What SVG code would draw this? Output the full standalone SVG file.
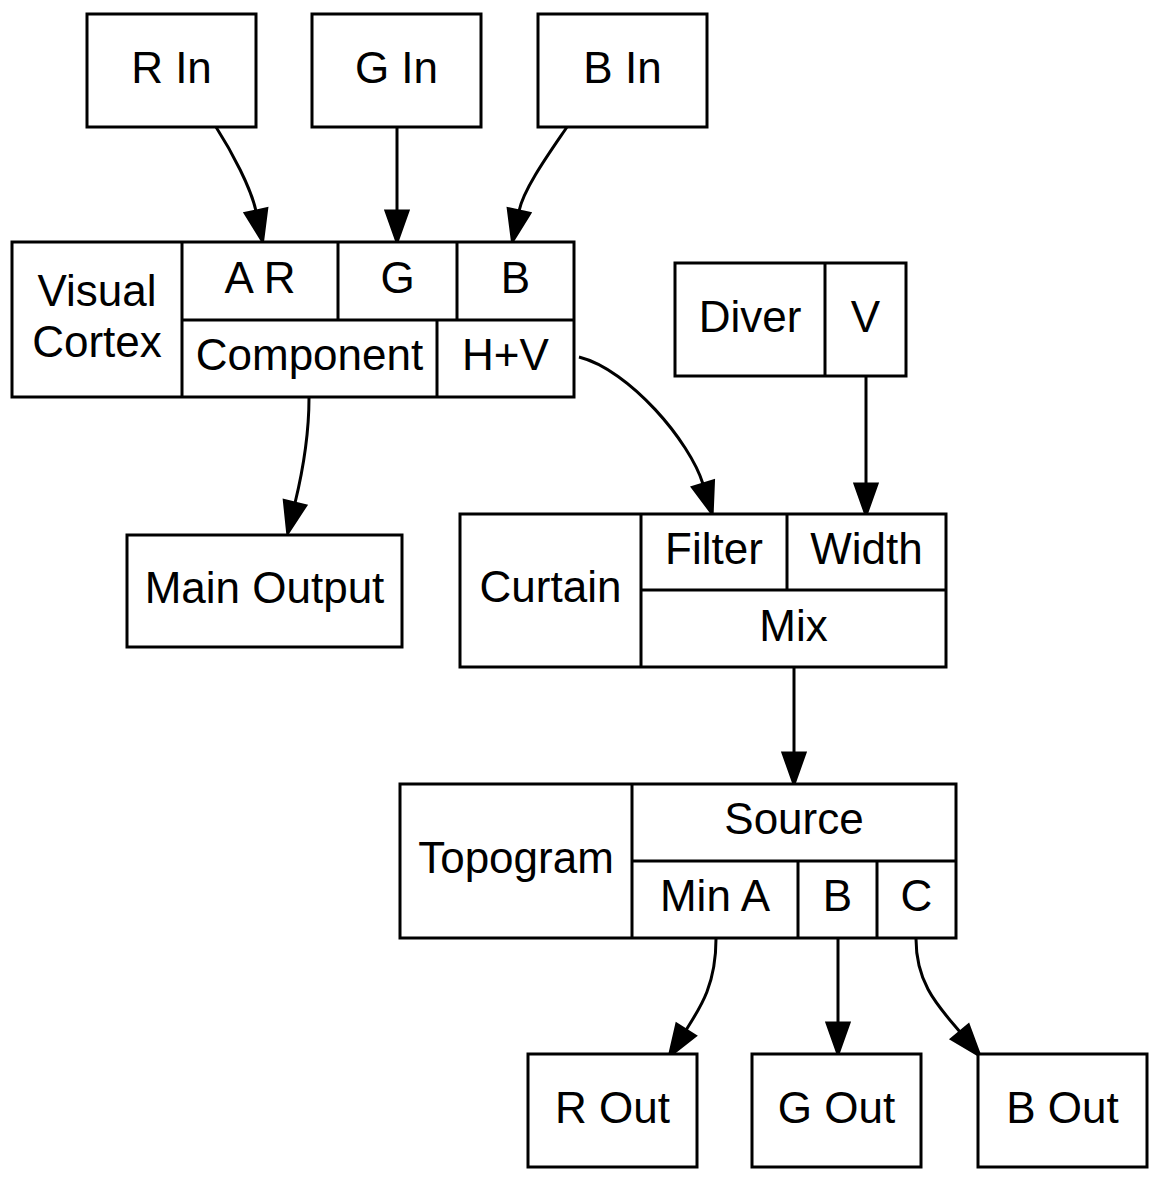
<svg xmlns="http://www.w3.org/2000/svg" width="1159" height="1181" viewBox="0 0 1159 1181">
<style>
.b{fill:#fff;stroke:#000;stroke-width:3}
.l{fill:none;stroke:#000;stroke-width:3}
text{font-family:"Liberation Sans",Arial,sans-serif;font-size:44px;text-anchor:middle;fill:#000}
.e{fill:none;stroke:#000;stroke-width:3;marker-end:url(#ah)}
</style>
<defs>
<marker id="ah" viewBox="-2 -14 36 28" refX="0" refY="0" markerWidth="36" markerHeight="28" markerUnits="userSpaceOnUse" orient="auto" overflow="visible">
<path d="M0,-11 L31,0 L0,11 Z" fill="#000" stroke="#000" stroke-width="3"/>
</marker>
</defs>
<rect width="1159" height="1181" fill="#fff"/>
<g id="edges">
<path class="e" d="M216,127 C232,152 251,188 256,211"/>
<path class="e" d="M397,127 L397,211"/>
<path class="e" d="M567,127 C550,152 524,188 519,211"/>
<path class="e" d="M309,398 C309,430 303,470 295,503"/>
<path class="e" d="M579,357 C630,370 690,442 703,484"/>
<path class="e" d="M866,377 L866,484"/>
<path class="e" d="M794,668 L794,753"/>
<path class="e" d="M716,939 C716,985 700,1008 686,1030"/>
<path class="e" d="M838,939 L838,1023"/>
<path class="e" d="M916,939 C916,985 940,1008 960,1032"/>
</g>
<g id="rin"><rect class="b" x="87" y="14" width="169" height="113"/><text x="171.5" y="83">R In</text></g>
<g id="gin"><rect class="b" x="312" y="14" width="169" height="113"/><text x="396.5" y="83">G In</text></g>
<g id="bin"><rect class="b" x="538" y="14" width="169" height="113"/><text x="622.5" y="83">B In</text></g>
<g id="visualcortex">
<rect class="b" x="12" y="242" width="562" height="155"/>
<path class="l" d="M182,242 V397 M182,320 H574 M338,242 V320 M457,242 V320 M437,320 V397"/>
<text x="97" y="306">Visual</text><text x="97" y="357">Cortex</text>
<text x="260" y="293">A R</text><text x="397.5" y="293">G</text><text x="515.5" y="293">B</text>
<text x="309.5" y="370">Component</text><text x="505.5" y="370">H+V</text>
</g>
<g id="diver">
<rect class="b" x="675" y="263" width="231" height="113"/>
<path class="l" d="M825,263 V376"/>
<text x="750" y="332">Diver</text><text x="865.5" y="332">V</text>
</g>
<g id="mainoutput"><rect class="b" x="127" y="535" width="275" height="112"/><text x="264.5" y="603">Main Output</text></g>
<g id="curtain">
<rect class="b" x="460" y="514" width="486" height="153"/>
<path class="l" d="M641,514 V667 M641,590 H946 M787,514 V590"/>
<text x="550.5" y="602">Curtain</text><text x="714" y="564">Filter</text><text x="866.5" y="564">Width</text><text x="793.5" y="641">Mix</text>
</g>
<g id="topogram">
<rect class="b" x="400" y="784" width="556" height="154"/>
<path class="l" d="M632,784 V938 M632,861 H956 M798,861 V938 M877,861 V938"/>
<text x="516" y="873">Topogram</text><text x="794" y="834">Source</text><text x="715" y="911">Min A</text><text x="837.5" y="911">B</text><text x="916.5" y="911">C</text>
</g>
<g id="rout"><rect class="b" x="528" y="1054" width="169" height="113"/><text x="612.5" y="1123">R Out</text></g>
<g id="gout"><rect class="b" x="752" y="1054" width="169" height="113"/><text x="836.5" y="1123">G Out</text></g>
<g id="bout"><rect class="b" x="978" y="1054" width="169" height="113"/><text x="1062.5" y="1123">B Out</text></g>
</svg>
